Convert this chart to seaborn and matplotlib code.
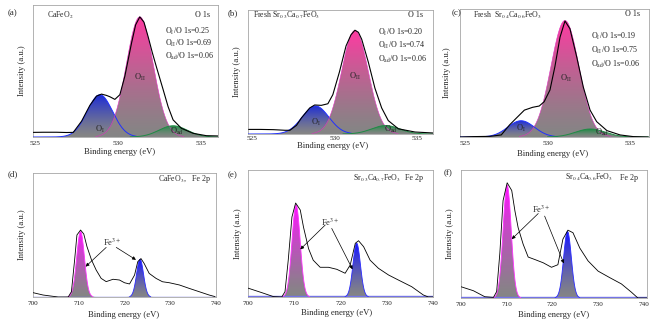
import numpy as np
import pandas as pd
import matplotlib
matplotlib.use("Agg")
import matplotlib.pyplot as plt
import seaborn as sns
from matplotlib.colors import LinearSegmentedColormap

# ---------------- O 1s spectra: measured envelopes ----------------
env_a_be = [524.9, 525.5, 526.3, 526.9, 527.3, 527.8, 528.3, 528.7, 529.0, 529.3, 529.5, 529.8,
            530.1, 530.4, 530.8, 531.05, 531.3, 531.55, 531.8, 532.05, 532.3, 532.7, 533.0,
            533.3, 533.8, 534.5, 535.3, 536.0]
env_a_int = [0.035, 0.036, 0.036, 0.034, 0.035, 0.12, 0.24, 0.31, 0.325, 0.315, 0.305, 0.285,
             0.32, 0.46, 0.71, 0.85, 0.91, 0.87, 0.76, 0.64, 0.53, 0.36, 0.23,
             0.13, 0.066, 0.028, 0.01, 0.008]

env_b_be = [524.8, 525.5, 526.3, 527.0, 527.3, 527.7, 528.0, 528.5, 528.8, 529.2, 529.6, 529.9,
            530.3, 530.7, 531.0, 531.24, 531.45, 531.65, 532.05, 532.45, 532.86, 533.26,
            533.87, 534.88, 536.0]
env_b_int = [0.037, 0.037, 0.035, 0.03, 0.03, 0.07, 0.13, 0.21, 0.234, 0.231, 0.244, 0.317,
             0.50, 0.71, 0.80, 0.837, 0.82, 0.764, 0.58, 0.37, 0.21, 0.108,
             0.042, 0.016, 0.008]

env_c_be = [524.7, 525.5, 526.5, 527.2, 527.7, 528.1, 528.6, 529.1, 529.5, 529.8, 530.15,
            530.45, 530.76, 531.06, 531.36, 531.77, 532.17, 532.58, 532.98, 533.6, 534.4,
            535.2, 536.1]
env_c_int = [0.0, 0.003, 0.005, 0.016, 0.094, 0.146, 0.21, 0.232, 0.242, 0.276, 0.367,
             0.55, 0.78, 0.906, 0.846, 0.626, 0.39, 0.21, 0.12, 0.05, 0.016,
             0.003, 0.0]

# fitted O 1s components: O_I (lattice), O_II, O_ad
o_labels = ["O$_{\\rm I}$", "O$_{\\rm II}$", "O$_{\\rm ad}$"]
peaks_a_center = [528.9, 531.3, 533.3]
peaks_a_height = [0.32, 0.91, 0.085]
peaks_a_fwhm = [1.8, 1.9, 2.0]

peaks_b_center = [528.85, 531.24, 533.1]
peaks_b_height = [0.226, 0.835, 0.068]
peaks_b_fwhm = [1.9, 1.9, 2.0]

peaks_c_center = [528.4, 531.06, 532.6]
peaks_c_height = [0.127, 0.91, 0.0625]
peaks_c_fwhm = [1.9, 2.0, 2.1]

ratios_a = [0.25, 0.69, 0.06]
ratios_b = [0.20, 0.74, 0.06]
ratios_c = [0.19, 0.75, 0.06]

# ---------------- Fe 2p spectra: measured envelopes ----------------
env_d_be = [700.0, 702.2, 705.5, 707.7, 708.4, 709.1, 709.6, 710.4, 711.1, 711.8, 712.8, 713.8,
            714.9, 716.0, 717.5, 718.9, 720.0, 721.1, 722.2, 722.9, 723.6, 724.3, 725.4,
            726.9, 728.3, 729.8, 732.0, 734.1, 736.3, 738.5, 739.8]
env_d_int = [0.035, 0.016, 0.0, 0.0, 0.043, 0.30, 0.50, 0.54, 0.508, 0.406, 0.298, 0.218,
             0.15, 0.124, 0.143, 0.137, 0.115, 0.105, 0.177, 0.285, 0.31, 0.27, 0.19,
             0.15, 0.123, 0.115, 0.097, 0.07, 0.043, 0.016, 0.003]

env_e_be = [700.0, 703.0, 705.5, 707.3, 708.0, 708.7, 709.5, 710.3, 711.3, 712.0, 713.1, 714.1,
            715.6, 717.4, 719.2, 721.0, 722.1, 723.2, 723.9, 725.0, 726.4, 728.2, 730.4,
            732.5, 735.4, 737.9, 739.0, 740.0]
env_e_int = [0.07, 0.034, 0.003, 0.0, 0.042, 0.29, 0.63, 0.74, 0.685, 0.55, 0.38, 0.29,
             0.234, 0.234, 0.218, 0.187, 0.252, 0.423, 0.443, 0.396, 0.29, 0.226, 0.173,
             0.134, 0.081, 0.016, 0.0, 0.0]

env_f_be = [700.0, 702.7, 705.2, 707.1, 707.8, 708.5, 709.2, 710.1, 711.1, 711.8, 712.5, 713.6,
            714.7, 716.2, 718.0, 719.8, 721.2, 722.3, 723.4, 724.5, 726.0, 727.8, 730.0,
            732.5, 735.1, 737.3, 738.7, 740.7]
env_f_int = [0.088, 0.057, 0.01, 0.005, 0.05, 0.35, 0.76, 0.90, 0.84, 0.68, 0.55, 0.42,
             0.32, 0.30, 0.275, 0.24, 0.26, 0.46, 0.53, 0.51, 0.39, 0.29, 0.21,
             0.16, 0.11, 0.045, 0.0, 0.0]

# fitted Fe3+ components: 2p3/2 and 2p1/2
fe_d_center = [710.4, 723.4]
fe_d_height = [0.527, 0.304]
fe_d_fwhm = [2.0, 1.8]

fe_e_center = [710.4, 723.5]
fe_e_height = [0.724, 0.423]
fe_e_fwhm = [2.1, 1.9]

fe_f_center = [710.1, 723.3]
fe_f_height = [0.88, 0.52]
fe_f_fwhm = [2.1, 2.0]

samples_o = ["CaFeO$_2$", "Fresh Sr$_{0.3}$Ca$_{0.7}$FeO$_3$", "Fresh  Sr$_{0.4}$Ca$_{0.6}$FeO$_3$"]
samples_fe = ["CaFeO$_3$,", "Sr$_{0.3}$Ca$_{0.7}$FeO$_3$", "Sr$_{0.4}$Ca$_{0.6}$FeO$_3$"]
o_ticks = [525, 530, 535]
fe_ticks = [700, 710, 720, 730, 740]

# ---------------- style ----------------
sns.set_theme(style="white")
plt.rcParams["font.family"] = ["Liberation Serif", "DejaVu Serif"]
plt.rcParams["mathtext.fontset"] = "stix"

W, H = 650, 321
fig = plt.figure(figsize=(W / 100, H / 100), dpi=100)

GRAY = "#858585"
SPINE = "#a6a6a6"


def add_axes(l, t, r, b):
    ax = fig.add_axes([l / W, 1 - b / H, (r - l) / W, (b - t) / H])
    for s in ax.spines.values():
        s.set_color(SPINE)
        s.set_linewidth(0.6)
    return ax


def gauss(x, c, h, fwhm):
    s = fwhm / 2.3548
    return h * np.exp(-0.5 * ((x - c) / s) ** 2)


def gradient_fill(ax, x, y, color, z):
    poly = ax.fill_between(x, 0, y, facecolor="none", edgecolor="none")
    cmap = LinearSegmentedColormap.from_list("grad", [GRAY, color], N=256)
    grad = np.linspace(0, 1, 256).reshape(-1, 1) ** 1.3
    im = ax.imshow(grad, cmap=cmap, aspect="auto", origin="lower",
                   extent=[x.min(), x.max(), 0, y.max()], zorder=z, interpolation="bilinear")
    im.set_clip_path(poly.get_paths()[0], ax.transData)


def finish(ax, xlim, ticks, xl_pos, yl_pos, pad=3):
    ax.set_xlim(*xlim)
    ax.set_ylim(0, 1)
    ax.set_xticks(ticks)
    ax.set_xticklabels([str(t) for t in ticks], fontsize=5.2)
    ax.set_yticks([])
    ax.tick_params(axis="x", direction="in", length=2.5, width=0.6, color=SPINE, pad=pad)
    ax.set_xlabel("Binding energy (eV)", fontsize=6.2, va="center")
    ax.set_ylabel("Intensity (a.u.)", fontsize=6.2, va="center")
    ax.xaxis.set_label_coords(*xl_pos)
    ax.yaxis.set_label_coords(*yl_pos)


def o1s_panel(box, xlim, env_be, env_int, centers, heights, fwhms, ratios, sample,
              title_pos, o1s_pos, ratio_pos, label_pos, xl_pos, yl_pos, pad=3):
    ax = add_axes(*box)
    x = np.linspace(xlim[0], xlim[1], 500)
    comps = [gauss(x, c, h, w) for c, h, w in zip(centers, heights, fwhms)]
    colors = ["#1b2bd6", "#ff3aa2", "#1f8b45"]
    for k in (0, 1, 2):
        gradient_fill(ax, x, comps[k], colors[k], 1 + k)
    blue = pd.DataFrame({"be": x[x <= centers[0] + 2.2], "i": comps[0][x <= centers[0] + 2.2]})
    green = pd.DataFrame({"be": x[x >= centers[2] - 2.6], "i": comps[2][x >= centers[2] - 2.6]})
    pink_mask = comps[1] > 0.004
    pink = pd.DataFrame({"be": x[pink_mask], "i": comps[1][pink_mask]})
    sns.lineplot(data=blue, x="be", y="i", ax=ax, color="#2030ff", lw=0.7, zorder=5)
    sns.lineplot(data=pink, x="be", y="i", ax=ax, color="#e030c0", lw=0.4, zorder=5)
    sns.lineplot(data=green, x="be", y="i", ax=ax, color="#1f8b45", lw=0.7, zorder=5)
    env = pd.DataFrame({"be": env_be, "i": env_int})
    sns.lineplot(data=env, x="be", y="i", ax=ax, color="black", lw=0.8, zorder=6)

    ax.text(*title_pos, sample, transform=ax.transAxes, fontsize=5.6, ha="left", va="center")
    ax.text(*o1s_pos, "O 1s", transform=ax.transAxes, fontsize=5.8, ha="right", va="center")
    for k, (yy, r) in enumerate(zip(ratio_pos[1], ratios)):
        ax.text(ratio_pos[0], yy, f"{o_labels[k]}/O 1s={r:.2f}", transform=ax.transAxes,
                fontsize=5.8, ha="left", va="center")
    for k, (lx, ly) in enumerate(label_pos):
        ax.text(lx, ly, o_labels[k], fontsize=6, ha="center", va="center", zorder=7)
    finish(ax, xlim, o_ticks, xl_pos, yl_pos, pad)
    return ax


def fe_panel(box, xlim, env_be, env_int, centers, heights, fwhms, sample,
             sample_x, fe_x, sy, text_pos, arrow_tails, arrow_heads, xl_pos, yl_pos):
    ax = add_axes(*box)
    x = np.linspace(xlim[0], xlim[1], 800)
    colors = ["#ff14ff", "#1414ff"]
    edge = ["#ff30ff", "#2a2aff"]
    for k in (0, 1):
        y = gauss(x, centers[k], heights[k], fwhms[k])
        gradient_fill(ax, x, y, colors[k], 1 + k)
        m = y > 0.003
        sns.lineplot(x=x[m], y=y[m], ax=ax, color=edge[k], lw=0.6, zorder=5)
    base = pd.DataFrame({"be": [xlim[0], xlim[1]], "i": [0.004, 0.004]})
    sns.lineplot(data=base, x="be", y="i", ax=ax, color="#7474e6", lw=1.0, zorder=4)
    env = pd.DataFrame({"be": env_be, "i": env_int})
    sns.lineplot(data=env, x="be", y="i", ax=ax, color="black", lw=0.6, zorder=6)

    ax.text(sample_x, sy, sample, transform=ax.transAxes, fontsize=5.6, ha="left", va="center")
    ax.text(fe_x, sy, "Fe 2p", transform=ax.transAxes, fontsize=5.8, ha="right", va="center")
    ax.text(*text_pos, "Fe$^{3+}$", fontsize=6, ha="center", va="center", zorder=7)
    for tail, head in zip(arrow_tails, arrow_heads):
        ax.annotate("", xy=head, xytext=tail, zorder=7,
                    arrowprops=dict(arrowstyle="-|>", lw=0.5, color="black",
                                    mutation_scale=5, shrinkA=0, shrinkB=0))
    finish(ax, xlim, fe_ticks, xl_pos, yl_pos)
    return ax


# ---------------- top row: O 1s ----------------
o1s_panel((33, 5, 218, 137), (524.88, 536.0), env_a_be, env_a_int,
          peaks_a_center, peaks_a_height, peaks_a_fwhm, ratios_a, samples_o[0],
          (0.078, 0.924), (0.957, 0.924), (0.714, [0.798, 0.71, 0.608]),
          [(528.9, 0.055), (531.3, 0.45), (533.5, 0.045)], (0.47, -0.11), (-0.061, 0.5))

o1s_panel((248, 10, 433, 134), (524.76, 535.97), env_b_be, env_b_int,
          peaks_b_center, peaks_b_height, peaks_b_fwhm, ratios_b, samples_o[1],
          (0.025, 0.96), (0.946, 0.96), (0.705, [0.816, 0.711, 0.598]),
          [(528.85, 0.094), (531.24, 0.462), (533.4, 0.04)], (0.458, -0.1), (-0.061, 0.5),
          pad=1.2)

o1s_panel((460, 9, 649, 137), (524.7, 536.15), env_c_be, env_c_int,
          peaks_c_center, peaks_c_height, peaks_c_fwhm, ratios_c, samples_o[2],
          (0.07, 0.953), (0.952, 0.96), (0.693, [0.789, 0.68, 0.568]),
          [(528.4, 0.068), (531.1, 0.458), (533.3, 0.036)], (0.49, -0.13), (-0.07, 0.5))

# ---------------- bottom row: Fe 2p ----------------
fe_panel((33, 173, 216, 297), (700, 739.8), env_d_be, env_d_int,
         fe_d_center, fe_d_height, fe_d_fwhm, samples_fe[0], 0.683, 0.967, 0.955,
         (717.2, 0.44), [(716.0, 0.40), (718.2, 0.40)], [(711.5, 0.245), (722.5, 0.30)],
         (0.493, -0.145), (-0.062, 0.5))

fe_panel((248, 170, 433, 297), (700, 740), env_e_be, env_e_int,
         fe_e_center, fe_e_height, fe_e_fwhm, samples_fe[1], 0.57, 0.946, 0.937,
         (717.7, 0.585), [(716.7, 0.567), (718.1, 0.54)], [(711.3, 0.375), (722.6, 0.218)],
         (0.479, -0.128), (-0.052, 0.5))

fe_panel((461, 170, 647, 298), (700, 740.7), env_f_be, env_f_int,
         fe_f_center, fe_f_height, fe_f_fwhm, samples_fe[2], 0.56, 0.95, 0.94,
         (717.6, 0.69), [(716.9, 0.66), (718.3, 0.64)], [(711.1, 0.46), (722.5, 0.27)],
         (0.496, -0.133), (-0.059, 0.5))

# panel letters
for lab, px, py in [("(a)", 12, 13), ("(b)", 233, 13), ("(c)", 457, 13),
                    ("(d)", 13, 174), ("(e)", 233, 175), ("(f)", 448, 173)]:
    fig.text(px / W, 1 - py / H, lab, fontsize=6.4, ha="center", va="center")

fig.savefig("out.png", dpi=100)
